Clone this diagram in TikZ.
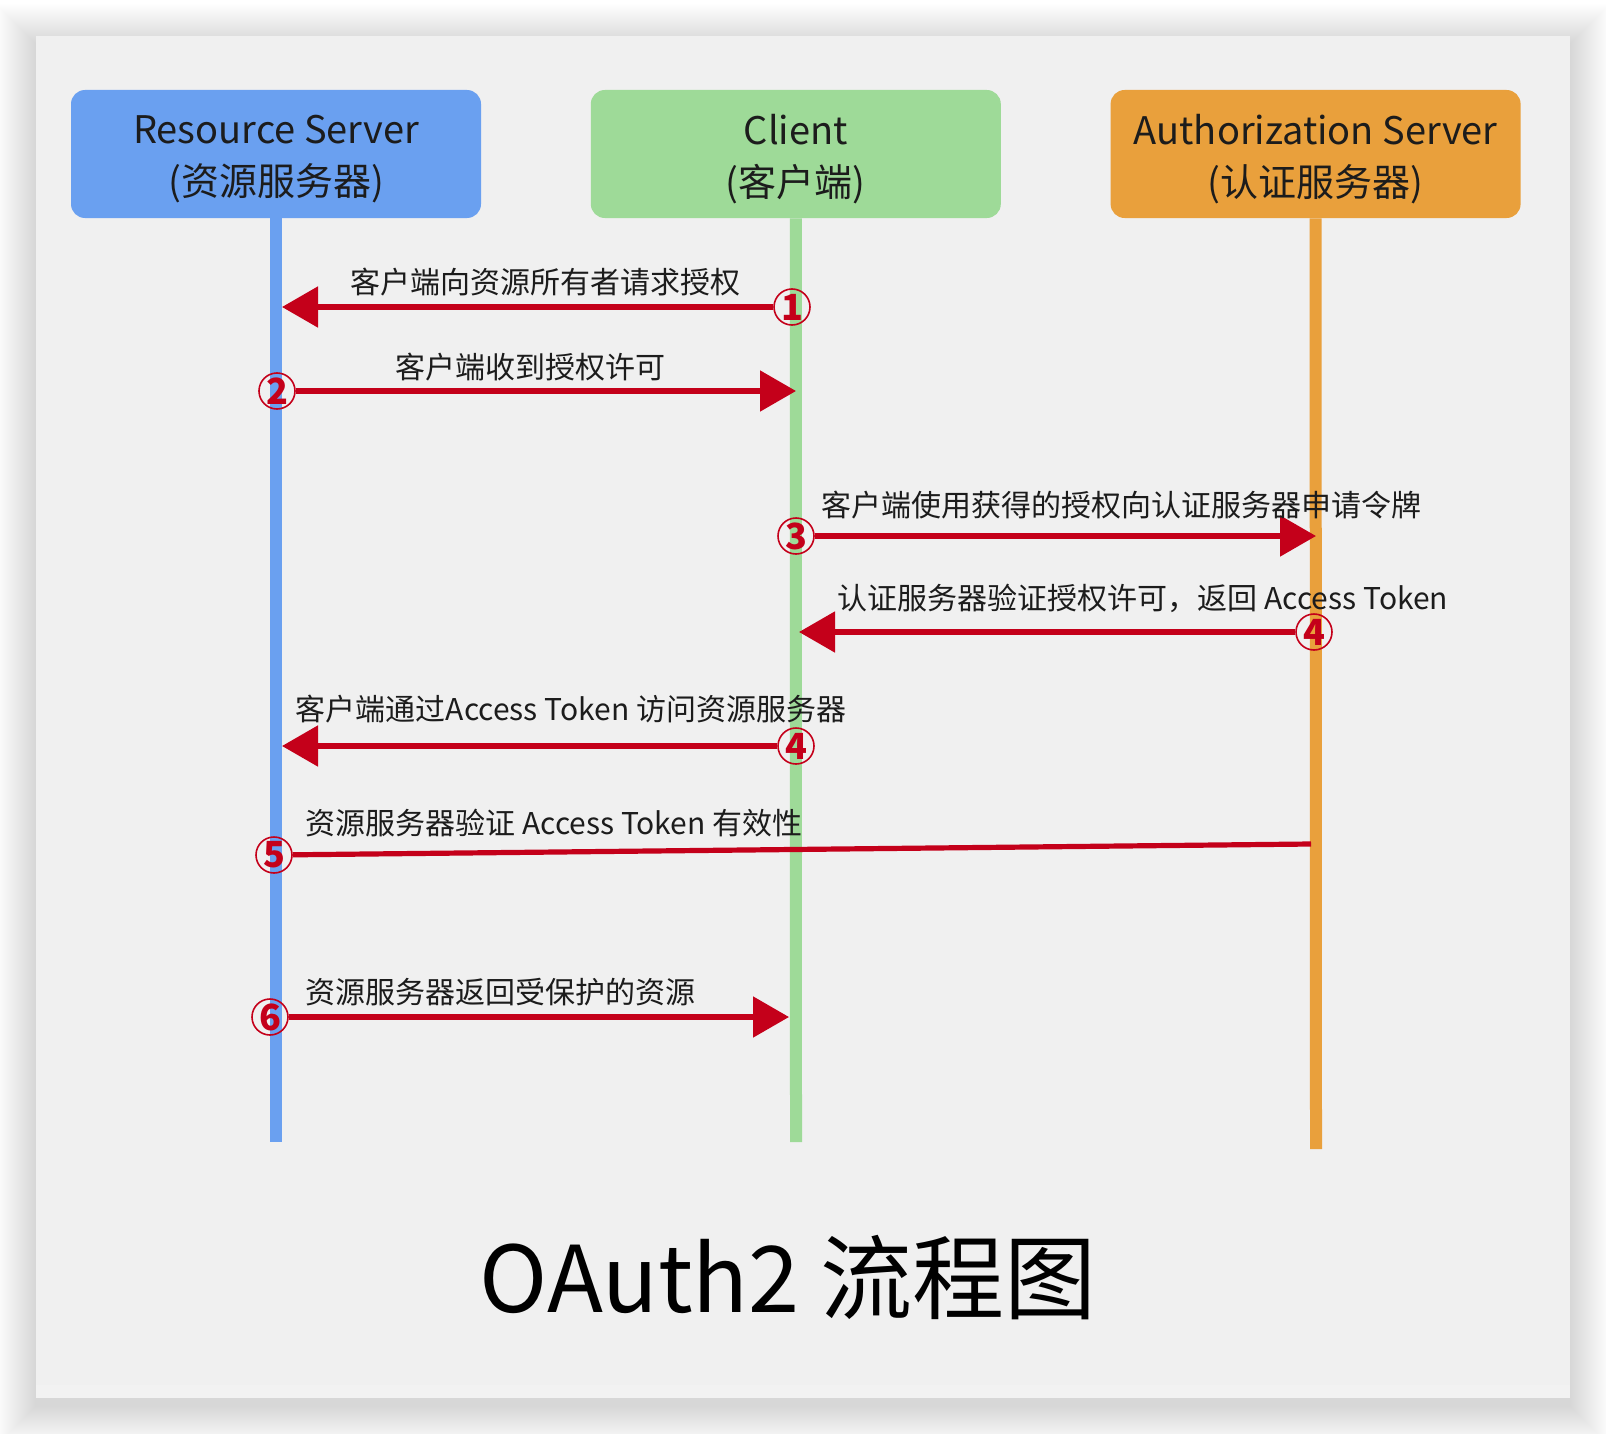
\documentclass[tikz,border=0pt]{standalone}
\usepackage{fontspec}
\setmainfont{Noto Sans CJK SC}
\usetikzlibrary{positioning,arrows.meta}

\definecolor{rsblue}{RGB}{106,160,240}
\definecolor{clgreen}{RGB}{158,218,152}
\definecolor{asorange}{RGB}{233,160,60}
\definecolor{msgred}{RGB}{196,0,26}
\definecolor{panelgray}{RGB}{240,240,240}
\definecolor{inkgray}{RGB}{28,28,28}

\begin{document}
\begin{tikzpicture}[x=0.5pt, y=-0.5pt, >={Triangle[length=18pt,width=20pt]},
		party/.style={rounded corners=7pt, minimum width=205pt, minimum height=64pt},
		partytext/.style={align=center, yshift=-2.5pt, font=\fontsize{19}{26}\selectfont, text=inkgray},
		lifeline/.style={line width=6pt},
		msg/.style={draw=msgred, line width=2.6pt},
		stepno/.style={circle, draw=msgred, line width=0.8pt, minimum size=18pt, inner sep=0pt, text=msgred, font=\fontsize{18}{18}\selectfont\bfseries},
		msglabel/.style={font=\fontsize{15}{15}\selectfont, text=inkgray}]
		\useasboundingbox (0,0) rectangle (1606,1434);
		% panel with soft shadow
		\foreach \s in {1,...,40}
			\fill[black, opacity=0.0035] ({36-\s},{44-\s}) rectangle ({1570+\s},{1406+\s});
		\fill[panelgray] (36,36) rectangle (1570,1398);
		\fill[black!5] (36,1385) rectangle (1570,1398);

		% parties
		\node[party, fill=rsblue, label={[partytext]center:Resource Server\\(资源服务器)}] (rs) at (276,154) {};
		\node[party, fill=clgreen, right=54.5pt of rs, label={[partytext]center:Client\\(客户端)}] (cl) {};
		\node[party, fill=asorange, right=54.5pt of cl, label={[partytext]center:Authorization Server\\(认证服务器)}] (as) {};

		\coordinate (rs-end) at (276,1142);
		\coordinate (cl-end) at (796,1142);
		\coordinate (as-end) at (1316,1149);
		\draw[lifeline, rsblue] (rs.south) -- (rs-end);
		\draw[lifeline, clgreen] (cl.south) -- (cl-end);
		\draw[lifeline, asorange] (as.south) -- (as-end);

		% messages
		\coordinate (t1) at (282,307);
		\coordinate (t2) at (796,391);
		\coordinate (t3) at (1316,536);
		\coordinate (t4) at (799,632);
		\coordinate (t4b) at (282,746);
		\coordinate (t5) at (1311,844);
		\coordinate (t6) at (789,1017);

		\node[stepno] (s1) at (792,307) {1};
		\node[stepno] (s2) at (277,391) {2};
		\node[stepno] (s3) at (796,536) {3};
		\node[stepno] (s4) at (1314,632) {4};
		\node[stepno] (s4b) at (796,746) {4};
		\node[stepno] (s5) at (274,855) {5};
		\node[stepno] (s6) at (270,1017) {6};

		\draw[msg, ->] (s1) -- (t1);
		\draw[msg, ->] (s2) -- (t2);
		\draw[msg, ->] (s3) -- (t3);
		\draw[msg, ->] (s4) -- (t4);
		\draw[msg, ->] (s4b) -- (t4b);
		\draw[msg] (s5) -- (t5);
		\draw[msg, ->] (s6) -- (t6);

		\node[msglabel] (l1) at (545,282) {客户端向资源所有者请求授权};
		\node[msglabel] (l2) at (530,367) {客户端收到授权许可};
		\node[msglabel] (l3) at (1121,505) {客户端使用获得的授权向认证服务器申请令牌};
		\node[msglabel] (l4) at (1143,598) {认证服务器验证授权许可，返回 Access Token};
		\node[msglabel] (l4b) at (571,709) {客户端通过Access Token 访问资源服务器};
		\node[msglabel] (l5) at (554,823) {资源服务器验证 Access Token 有效性};
		\node[msglabel] (l6) at (500,992) {资源服务器返回受保护的资源};

		\node[font=\fontsize{46}{46}\selectfont, text=black] (title) at (788,1278) {OAuth2 流程图};
	\end{tikzpicture}
\end{document}
